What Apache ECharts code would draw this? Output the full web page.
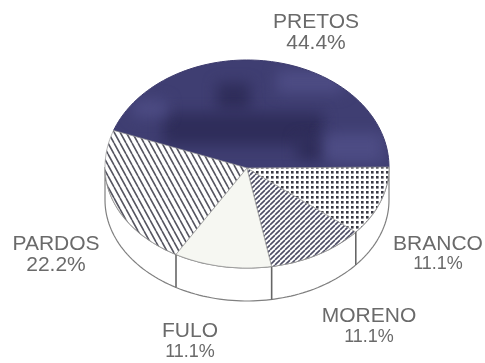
<!DOCTYPE html>
<html><head><meta charset="utf-8">
<style>html,body{margin:0;padding:0;background:#fff}#c{width:485px;height:363px;filter:blur(0.7px)}</style>
<script src="https://cdn.jsdelivr.net/npm/echarts@6/dist/echarts.min.js"></script>
</head><body><div id="c"></div>
<script>
const categories = ['PRETOS','PARDOS','FULO','MORENO','BRANCO'];
const shares = [44.4,22.2,11.1,11.1,11.1];
const percentLabels = ['44.4%','22.2%','11.1%','11.1%','11.1%'];

const labelAnchors = [[316,32.5],[56,254.5],[190,341.5],[369,326.5],[438,254]];
const percentStyle = ['big','big','small','small','small'];
const geo = {cx:247,cy:167,rx:142,ryUp:107,ryDown:101,depth:33};

function patternCanvas(w,h,base,draw){
  const c=document.createElement('canvas');c.width=w;c.height=h;
  const g=c.getContext('2d');g.fillStyle=base;g.fillRect(0,0,w,h);draw(g);return c;
}
function hatch(w,h,dir,color,lw){
  return patternCanvas(w,h,'#fff',g=>{
    g.strokeStyle=color;g.lineWidth=lw;g.beginPath();
    for(let k=-1;k<=1;k++){
      if(dir>0){g.moveTo(k*w,0);g.lineTo(k*w+w,h);}
      else{g.moveTo(k*w+w,0);g.lineTo(k*w,h);}
    }
    g.stroke();
  });
}
// page-sized texture for the scanned solid slice: darker middle, paler edge patches
const blotches = patternCanvas(485,363,'#3f3e72',g=>{
  g.filter='blur(7px)';
  g.fillStyle='#2f2d5a';
  g.fillRect(217,83,33,27);g.fillRect(163,113,160,32);g.fillRect(297,137,33,23);
  g.fillStyle='#4d4c84';
  g.fillRect(133,100,34,17);g.fillRect(323,133,60,30);g.fillRect(277,70,66,23);
});
const fills = [
  {image:blotches,repeat:'repeat'},
  {image:hatch(6,11,1,'#555560',1.6),repeat:'repeat'},
  '#f6f7f2',
  {image:hatch(5,5,-1,'#4e4e66',1.6),repeat:'repeat'},
  {image:patternCanvas(5,5,'#fff',g=>{g.fillStyle='#3a3a44';g.fillRect(1,1,2.6,2.6);}),repeat:'repeat'}
];

const total = shares.reduce((a,b)=>a+b,0);
function pt(t,dy){
  const ry=Math.sin(t)>0?geo.ryDown:geo.ryUp;
  return [geo.cx+geo.rx*Math.cos(t),geo.cy+ry*Math.sin(t)+(dy||0)];
}
function arc(a0,a1,dy){
  const p=[],n=Math.max(4,Math.ceil(Math.abs(a1-a0)/0.03));
  for(let i=0;i<=n;i++){p.push(pt(-(a0+(a1-a0)*i/n),dy));}
  return p;
}
const series = [
  {
    type:'custom',coordinateSystem:'none',silent:true,z:1,
    data:[0],
    renderItem(){
      const outer=arc(Math.PI,2*Math.PI,geo.depth);
      const rim=arc(Math.PI,2*Math.PI,0).reverse();
      return {type:'polygon',shape:{points:outer.concat(rim)},
        style:{fill:'#fff',stroke:'#808080',lineWidth:1.2}};
    }
  },
  {
    type:'custom',coordinateSystem:'none',silent:true,z:2,
    data:shares.map((v,i)=>[i,v]),
    renderItem(params,api){
      const i=api.value(0);
      let before=0;for(let k=0;k<i;k++)before+=shares[k];
      const a0=before/total*2*Math.PI,a1=(before+api.value(1))/total*2*Math.PI;
      const pts=[[geo.cx,geo.cy+1]].concat(arc(a0,a1,0));
      const children=[{type:'polygon',shape:{points:pts},
        style:{fill:fills[i],stroke:i===0?'#3d3b6e':'#9a9a9a',lineWidth:i===0?1:0.7}}];
      const end=pt(-a1,0);
      if(Math.sin(-a1)>0.2){
        children.push({type:'line',shape:{x1:end[0],y1:end[1],x2:end[0],y2:end[1]+geo.depth},
          style:{stroke:'#666',lineWidth:1.6}});
      }
      const anc=labelAnchors[i];
      children.push({type:'text',x:anc[0],y:anc[1],z2:5,
        style:{text:'{name|'+categories[i]+'}\n{'+percentStyle[i]+'|'+percentLabels[i]+'}',
          align:'center',verticalAlign:'middle',
          rich:{
            name:{font:'21px "Liberation Sans"',fill:'#6a6a6a',lineHeight:20.5,align:'center'},
            big:{font:'21px "Liberation Sans"',fill:'#6a6a6a',lineHeight:20.5,align:'center'},
            small:{font:'18px "Liberation Sans"',fill:'#6a6a6a',lineHeight:20.5,align:'center'}
          }}});
      return {type:'group',children};
    }
  }
];
echarts.init(document.getElementById('c'),null,{renderer:'canvas'}).setOption({
  animation:false,backgroundColor:'#fff',series
});
</script></body></html>
